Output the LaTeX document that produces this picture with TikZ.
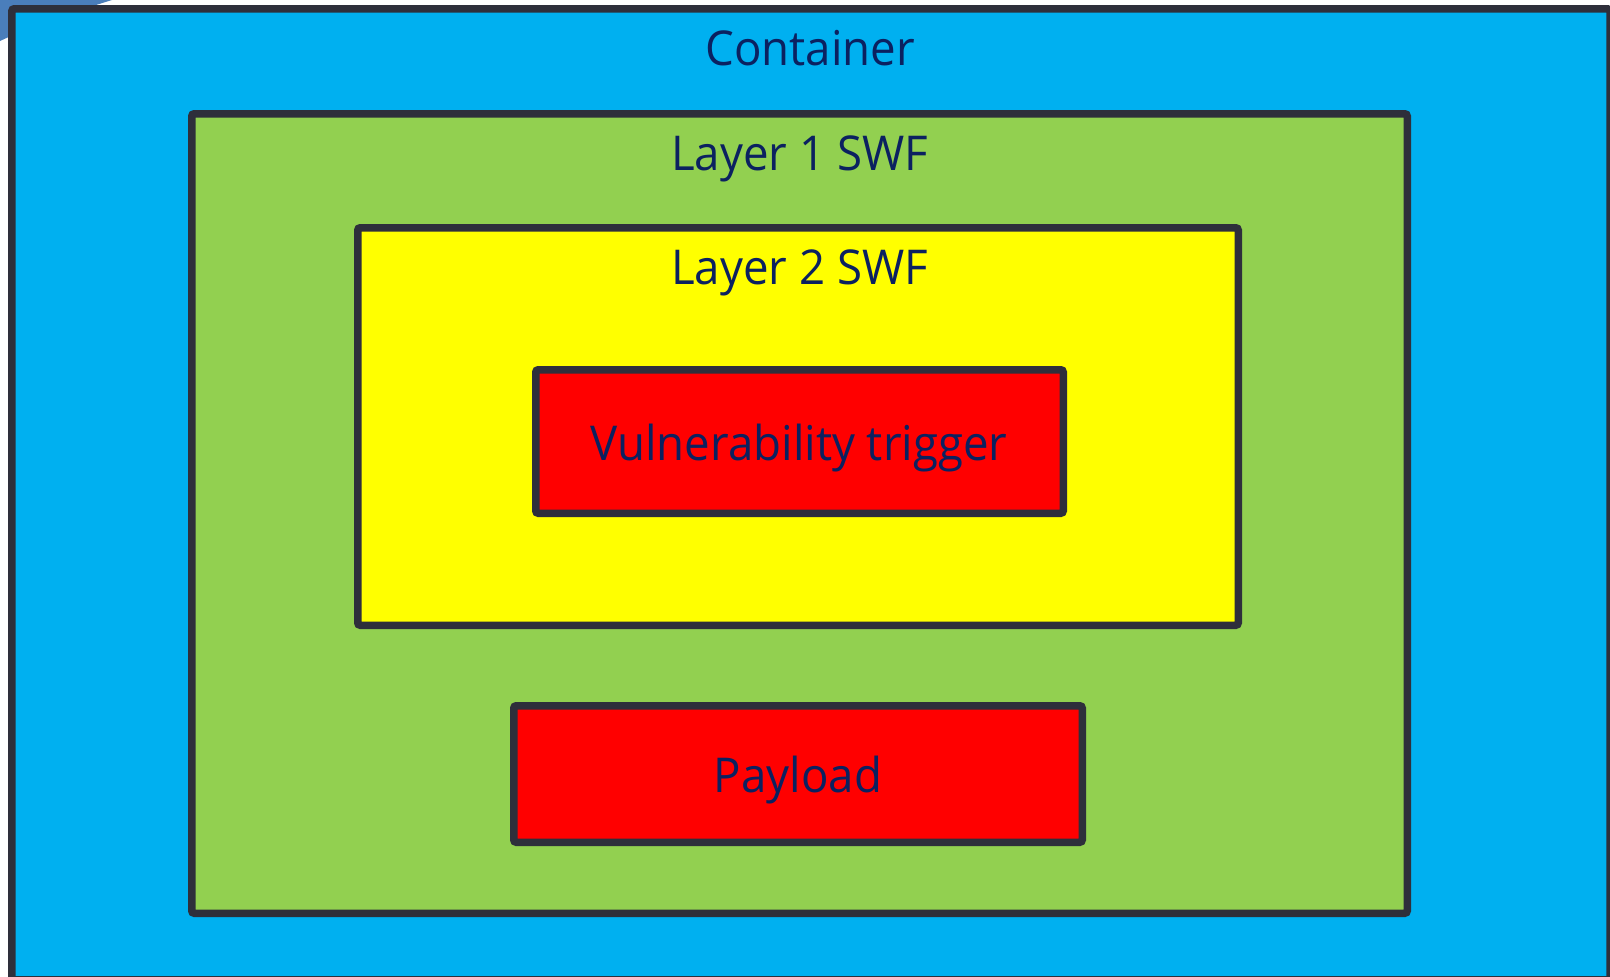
\documentclass[tikz,border=0pt]{standalone}
\usepackage{fontspec}
\setmainfont{Open Sans}[FakeStretch=0.95]
\definecolor{edge}{HTML}{2E2F3B}
\definecolor{cblue}{HTML}{00B0F0}
\definecolor{cgreen}{HTML}{92D050}
\definecolor{cyellow}{HTML}{FFFF00}
\definecolor{cred}{HTML}{FF0000}
\definecolor{navy}{HTML}{0B2160}
\definecolor{steel}{HTML}{4A7EBB}
\tikzset{
  layerbox/.style={draw=edge, line width=7.5pt, rounded corners=2.5pt,
    inner sep=0pt, outer sep=0pt},
  caption/.style={anchor=base, text=navy, inner sep=0pt,
    font=\fontsize{48}{58}\selectfont},
}
\begin{document}
\begin{tikzpicture}[x=1pt, y=-1pt]
  \useasboundingbox (0,0) rectangle (1610,977);
  \clip (0,0) rectangle (1610,977);
  % backdrop shape peeking out at the upper left
  \fill[steel] (0,0) -- (112,0) .. controls (70,13) and (30,27) .. (0,41) -- cycle;
  % nested layers
  \node[layerbox, fill=cblue, minimum width=1598.25pt, minimum height=971pt]
    (container) at (810.9,494.25) {};
  \node[layerbox, fill=cgreen, minimum width=1215.5pt, minimum height=799.5pt]
    (layer1) at (799.5,513.5) {};
  \node[layerbox, fill=cyellow, minimum width=880.5pt, minimum height=397.5pt]
    (layer2) at (798,426.5) {};
  \node[layerbox, fill=cred, minimum width=527.5pt, minimum height=143.5pt]
    (vuln) at (799.5,441.5) {};
  \node[layerbox, fill=cred, minimum width=568.5pt, minimum height=136.5pt]
    (payload) at (798,774) {};
  % captions
  \node[caption] (containerText) at (810,65) {Container};
  \node[caption] (layer1Text) at (799.5,170) {Layer 1 SWF};
  \node[caption] (layer2Text) at (799.5,284) {Layer 2 SWF};
  \node[caption] (vulnText) at (799,460) {Vulnerability trigger};
  \node[caption] (payloadText) at (798,792) {Payload};
\end{tikzpicture}
\end{document}
